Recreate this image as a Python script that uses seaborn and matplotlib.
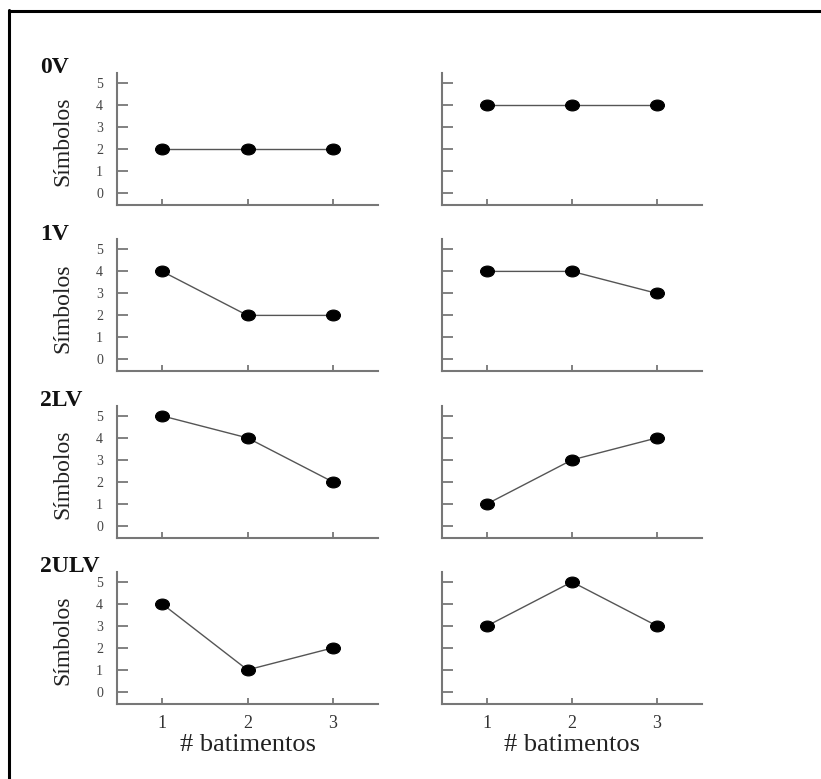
import matplotlib
matplotlib.use("Agg")
import matplotlib.pyplot as plt
from matplotlib.lines import Line2D
from matplotlib.path import Path
from matplotlib.transforms import Affine2D
import seaborn as sns
import pandas as pd

# beat counts on the x axis
batimentos = [1, 2, 3]
rows = ["0V", "1V", "2LV", "2ULV"]

# symbols per condition: left column / right column
left_0v = [2, 2, 2]
right_0v = [4, 4, 4]
left_1v = [4, 2, 2]
right_1v = [4, 4, 3]
left_2lv = [5, 4, 2]
right_2lv = [1, 3, 4]
left_2ulv = [4, 1, 2]
right_2ulv = [3, 5, 3]

yticks = [0, 1, 2, 3, 4, 5]

series = {
    ("0V", 0): left_0v, ("0V", 1): right_0v,
    ("1V", 0): left_1v, ("1V", 1): right_1v,
    ("2LV", 0): left_2lv, ("2LV", 1): right_2lv,
    ("2ULV", 0): left_2ulv, ("2ULV", 1): right_2ulv,
}

records = []
for (row, col), vals in series.items():
    for b, v in zip(batimentos, vals):
        records.append({"row": row, "col": col, "batimentos": b, "simbolos": v})
df = pd.DataFrame(records)

sns.set_theme(style="white")
plt.rcParams["font.family"] = ["Liberation Serif", "DejaVu Serif"]

# slightly flattened dot marker
circle = Path.unit_circle()
oval = Path(Affine2D().scale(1.0, 0.78).transform(circle.vertices), circle.codes)

W, H = 821, 779
fig = plt.figure(figsize=(W / 100, H / 100), dpi=100)

col_left = [117, 442]
col_width = [261, 260]
row_tops = [73, 239.5, 406, 572]
ax_h = 132

spine_col = "#777777"
for r, row in enumerate(rows):
    for c in range(2):
        x0 = col_left[c] / W
        y0 = 1 - (row_tops[r] + ax_h) / H
        ax = fig.add_axes([x0, y0, col_width[c] / W, ax_h / H])
        sub = df[(df["row"] == row) & (df["col"] == c)]
        sns.lineplot(data=sub, x="batimentos", y="simbolos", ax=ax,
                     color="#555555", linewidth=1.0, marker=oval,
                     markersize=10, markerfacecolor="black",
                     markeredgecolor="black", markeredgewidth=0.8)
        ax.set_xlim(0.47, 3.53)
        ax.set_ylim(-0.55, 5.45)
        ax.set_xticks(batimentos)
        ax.set_yticks(yticks)
        for s in ["top", "right"]:
            ax.spines[s].set_visible(False)
        for s in ["left", "bottom"]:
            ax.spines[s].set_color(spine_col)
            ax.spines[s].set_linewidth(1.5)
        ax.tick_params(axis="y", direction="in", length=8, width=1.3,
                       color=spine_col, labelsize=10, labelcolor="#444444",
                       pad=10, left=True)
        ax.tick_params(axis="x", direction="in", length=4, width=1.3,
                       color=spine_col, labelsize=13, labelcolor="#333333",
                       pad=8, bottom=True)
        if c == 1:
            ax.set_yticklabels([])
            ax.set_ylabel("")
        else:
            ax.set_ylabel("Símbolos", fontsize=17, color="#222222")
            ax.yaxis.set_label_coords(-0.169, 0.48)
            ax.text(-0.295, 1.0, row, transform=ax.transAxes,
                    fontsize=17, fontweight="bold", va="baseline", ha="left",
                    color="#111111")
        if r == len(rows) - 1:
            ax.set_xlabel("# batimentos", fontsize=19, color="#222222")
            ax.xaxis.set_label_coords(0.5, -0.23)
            ax.xaxis.label.set_va("top")
        else:
            ax.set_xticklabels([])
            ax.set_xlabel("")

# frame edges along the top and left
fig.add_artist(Line2D([8.5 / W, 1.0], [1 - 11 / H, 1 - 11 / H],
                      transform=fig.transFigure, color="black", linewidth=2.2))
fig.add_artist(Line2D([9 / W, 9 / W], [0.0, 1 - 10 / H],
                      transform=fig.transFigure, color="black", linewidth=2.2))

fig.savefig("out.png", dpi=100)
